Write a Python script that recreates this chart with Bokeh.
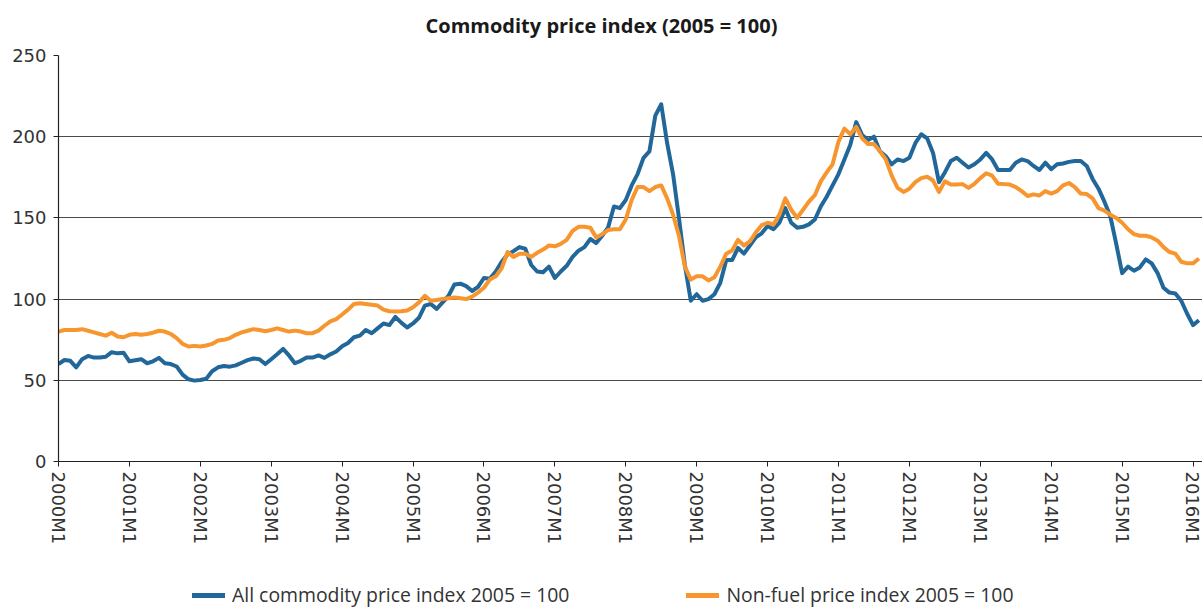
from bokeh.plotting import figure
from bokeh.layouts import column
from bokeh.models import FixedTicker, Legend, LegendItem, Range1d, ColumnDataSource, Label
from bokeh.embed import file_html
from bokeh.resources import INLINE

# ---- data (monthly, 2000M1 .. 2016M2, index 2005 = 100) ----
tick_labels = ["2000M1", "2001M1", "2002M1", "2003M1", "2004M1", "2005M1", "2006M1",
               "2007M1", "2008M1", "2009M1", "2010M1", "2011M1", "2012M1", "2013M1",
               "2014M1", "2015M1", "2016M1"]

all_commodity = [
    60, 62.5, 62, 58, 63, 65, 64, 64, 64.5, 67.3, 66.6, 67,                 # 2000
    61.7, 62.4, 63, 60.5, 61.7, 63.8, 60.5, 60, 58.5, 53.5, 50.6, 49.8,     # 2001
    50.2, 51, 55.6, 58, 58.8, 58.4, 59.2, 60.8, 62.4, 63.4, 63, 60,         # 2002
    63, 66, 69.3, 65.3, 60.5, 62, 64, 64, 65.3, 63.8, 66, 67.7,             # 2003
    71, 73, 76.5, 77.5, 81, 79, 82, 85, 84, 89, 85.5, 82.5,                 # 2004
    85, 88.5, 96, 97, 94, 98, 102, 109, 109.5, 108, 105, 107.5,             # 2005
    113, 112.5, 117, 123, 127.5, 129.5, 132, 131, 121, 117, 116.5, 120,     # 2006
    113, 117, 120.5, 126, 129.8, 132, 137, 134.5, 139, 144, 157, 156,       # 2007
    161, 170, 177, 187, 191, 213, 220, 196, 177, 150, 121, 99,              # 2008
    103, 99, 100, 103, 110, 124, 124, 131.5, 128, 133, 138, 140.5,          # 2009
    145, 143, 147, 156, 147, 144, 144.5, 146, 149, 157, 163, 170,           # 2010
    177, 186, 195, 209, 201, 198, 200, 191, 188, 183, 186, 185,             # 2011
    187, 196, 201.5, 199, 190, 172, 178, 185, 187, 184, 181, 183,           # 2012
    186, 190, 186, 179.5, 179.5, 179.5, 184, 186, 185, 182, 179.5, 184,     # 2013
    180, 183, 183.5, 184.5, 185, 185, 182, 174, 168, 160, 151, 134,         # 2014
    116, 120, 117.5, 119.5, 124.5, 122, 116, 107, 104, 103.5, 99, 91,       # 2015
    84, 87,                                                                 # 2016
]

non_fuel = [
    80, 81, 81, 81, 81.5, 80.5, 79.5, 78.5, 77.5, 79.3, 77, 76.5,           # 2000
    78, 78.5, 78, 78.5, 79.3, 80.5, 80, 78.5, 76, 72.4, 70.8, 71.2,         # 2001
    70.8, 71.4, 72.4, 74.5, 74.9, 76, 78, 79.5, 80.5, 81.5, 81, 80.2,       # 2002
    81, 82, 81, 80, 80.6, 80, 79, 79, 80.6, 83.6, 86.3, 87.7,               # 2003
    90.5, 93.5, 97, 97.4, 97, 96.5, 96, 93.5, 92.5, 92.3, 92.5, 93,         # 2004
    95, 98, 102, 99, 99.5, 100, 100.5, 101, 100.5, 100, 101.5, 104,         # 2005
    107, 112, 114, 119, 129, 126, 128, 128, 126, 128.5, 130.5, 133,         # 2006
    132.5, 134, 136.5, 142, 144.5, 144.5, 144, 138, 140, 142.5, 143, 143,   # 2007
    149, 161, 169, 169, 166.5, 169, 170, 162, 152, 139, 120, 112,           # 2008
    114, 114, 111.5, 113.5, 120, 128, 130, 136.5, 133, 135.5, 141, 145.5,   # 2009
    147, 146, 152, 162, 155, 150, 155, 160, 164, 172.5, 178, 183,           # 2010
    197, 205, 201.5, 206, 199, 195.5, 195.5, 191, 186, 176, 168.5, 166,     # 2011
    168, 172, 174.5, 175.3, 173, 166, 172.5, 170.5, 170.5, 170.8, 168.5, 171,  # 2012
    174.5, 177.5, 176, 171, 170.8, 170.5, 169, 166.5, 163.5, 164.5, 163.8, 166.5,  # 2013
    165, 166.5, 170, 171.5, 169, 165, 164.7, 162, 156, 154.5, 152, 150,     # 2014
    147, 143, 140, 139, 139, 138, 136, 132, 129, 128, 123, 122,             # 2015
    122, 125,                                                               # 2016
]

series_names = ["All commodity price index 2005 = 100", "Non-fuel price index 2005 = 100"]
title_text = "Commodity price index (2005 = 100)"
y_ticks = [0, 50, 100, 150, 200, 250]

month_index = list(range(len(all_commodity)))
tick_positions = [12 * k for k in range(len(tick_labels))]

BLUE = "#22679a"
ORANGE = "#f7962f"
W = 1202

src = ColumnDataSource(dict(x=month_index, a=all_commodity, b=non_fuel))

# ---- title strip ----
hdr = figure(width=W, height=45, output_backend="svg", toolbar_location=None,
             x_range=Range1d(58, W), y_range=Range1d(0, 45),
             x_axis_type=None, y_axis_type=None,
             min_border_left=0, min_border_right=0, min_border_top=0, min_border_bottom=0)
hdr.outline_line_color = None
hdr.xgrid.grid_line_color = None
hdr.ygrid.grid_line_color = None
hdr.add_layout(Label(x=601, y=20, text=title_text, text_align="center",
                     text_baseline="middle", text_font="Open Sans",
                     text_font_style="bold", text_font_size="20px",
                     text_color="#1a1a1a"))

# ---- main chart ----
p = figure(width=W, height=515, output_backend="svg", toolbar_location=None,
           x_range=Range1d(0, 193.6),
           y_range=Range1d(0, 250),
           min_border_left=58, min_border_right=0, min_border_top=10,
           min_border_bottom=99)
p.outline_line_color = None
p.background_fill_color = "white"
p.border_fill_color = "white"

p.line("x", "a", source=src, line_color=BLUE, line_width=4, line_join="round")
p.line("x", "b", source=src, line_color=ORANGE, line_width=4, line_join="round")

p.xaxis.ticker = FixedTicker(ticks=tick_positions)
p.xaxis.major_label_overrides = {t: lab for t, lab in zip(tick_positions, tick_labels)}
p.xaxis.major_label_orientation = "vertical"
p.yaxis.ticker = FixedTicker(ticks=y_ticks)
for ax in (p.xaxis[0], p.yaxis[0]):
    ax.axis_line_color = "#222222"
    ax.axis_line_width = 1.2
    ax.major_tick_line_color = "#222222"
    ax.major_tick_out = 5
    ax.major_tick_in = 0
    ax.minor_tick_line_color = None
    ax.major_label_text_font = "DejaVu Sans"
    ax.major_label_text_font_size = "18px"
    ax.major_label_text_color = "#333333"
p.xaxis.major_label_standoff = 5
p.yaxis.major_label_standoff = 7

p.xgrid.grid_line_color = None
p.ygrid.ticker = FixedTicker(ticks=y_ticks)
p.ygrid.grid_line_color = "#4a4a4a"
p.ygrid.grid_line_width = 1.2

# ---- legend strip below the chart: same series as legend keys, kept out of view ----
leg = figure(width=W, height=48, output_backend="svg", toolbar_location=None,
             x_range=Range1d(0, 1), y_range=Range1d(-20, -10),
             x_axis_type=None, y_axis_type=None,
             min_border_left=0, min_border_right=0, min_border_top=0, min_border_bottom=0)
leg.outline_line_color = None
leg.xgrid.grid_line_color = None
leg.ygrid.grid_line_color = None
k1 = leg.line("x", "a", source=src, line_color=BLUE, line_width=5, line_cap="round")
k2 = leg.line("x", "b", source=src, line_color=ORANGE, line_width=5, line_cap="round")

legend = Legend(items=[LegendItem(label=series_names[0], renderers=[k1]),
                       LegendItem(label=series_names[1], renderers=[k2])],
                orientation="horizontal", location=(134, 0))
legend.glyph_width = 33
legend.glyph_height = 20
legend.label_standoff = 7
legend.spacing = 117
legend.padding = 0
legend.margin = 0
legend.border_line_color = None
legend.background_fill_alpha = 0
legend.label_text_font = "Open Sans"
legend.label_text_font_size = "19.4px"
legend.label_text_color = "#333333"
leg.add_layout(legend)

open("out.html", "w").write(file_html(column(hdr, p, leg, spacing=0), INLINE))
